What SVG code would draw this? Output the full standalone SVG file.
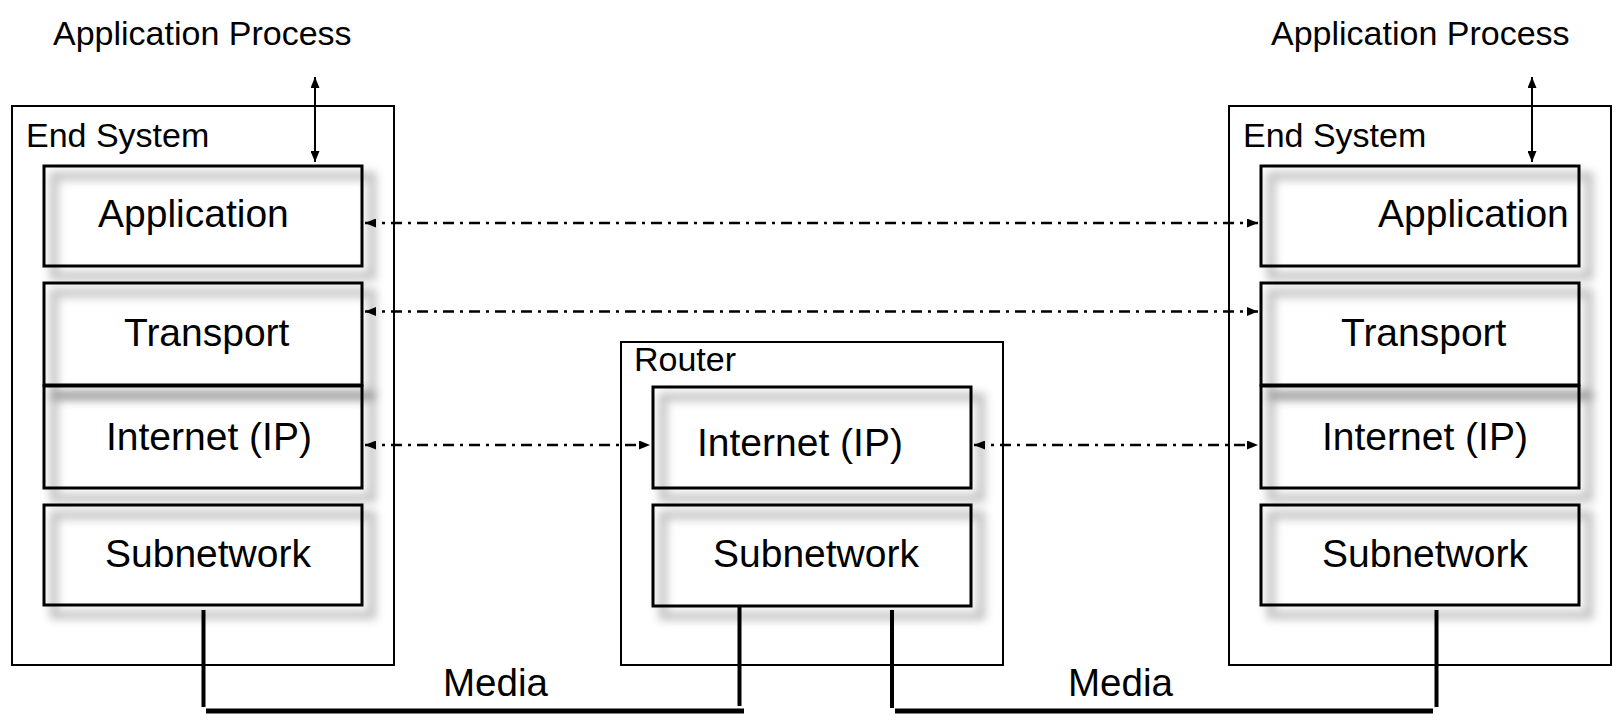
<svg xmlns="http://www.w3.org/2000/svg" width="1623" height="725" viewBox="0 0 1623 725">
<defs>
<filter id="sh" x="-10%" y="-20%" width="130%" height="150%">
<feMorphology in="SourceAlpha" operator="dilate" radius="3" result="d"/>
<feOffset in="d" dx="10" dy="10" result="o"/>
<feGaussianBlur in="o" stdDeviation="4.5" result="b"/>
<feFlood flood-color="#000" flood-opacity="0.22"/>
<feComposite in2="b" operator="in" result="s"/>
<feMerge><feMergeNode in="s"/><feMergeNode in="SourceGraphic"/></feMerge>
</filter>
<marker id="ah" viewBox="0 0 11 9" refX="11" refY="4.5" markerWidth="11" markerHeight="9" markerUnits="userSpaceOnUse" orient="auto-start-reverse">
<path d="M0,0 L11,4.5 L0,9 z" fill="#000"/>
</marker>
</defs>
<style>
text{font-family:"Liberation Sans",Arial,sans-serif;fill:#000}
.lbl{font-size:34px}
.lay{font-size:39px}
.outer{fill:none;stroke:#000;stroke-width:2}
.layer{fill:none;stroke:#000;stroke-width:3;filter:url(#sh)}
.peer{fill:none;stroke:#000;stroke-width:2.4;stroke-dasharray:11 6 3 6;marker-start:url(#ah);marker-end:url(#ah)}
.api{fill:none;stroke:#000;stroke-width:2;marker-start:url(#ah);marker-end:url(#ah)}
.media{fill:none;stroke:#000;stroke-width:4}
.bus{fill:none;stroke:#000;stroke-width:5}
</style>
<rect width="1623" height="725" fill="#fff"/>

<text class="lbl" x="53" y="45">Application Process</text>
<text class="lbl" x="1271" y="45">Application Process</text>

<g id="end-system-left">
<rect class="outer" x="12" y="106" width="382" height="559"/>
<text class="lbl" x="26" y="147">End System</text>
</g>
<g id="left-application"><rect class="layer" x="44" y="166" width="318" height="100"/><text class="lay" x="98" y="227">Application</text></g>
<g id="left-transport"><rect class="layer" x="44" y="283" width="318" height="102"/><text class="lay" x="124" y="346">Transport</text></g>
<g id="left-internet"><rect class="layer" x="44" y="386" width="318" height="102"/><text class="lay" x="106" y="450">Internet (IP)</text></g>
<g id="left-subnetwork"><rect class="layer" x="44" y="505" width="318" height="100"/><text class="lay" x="105" y="567">Subnetwork</text></g>

<g id="router">
<rect class="outer" x="621" y="342" width="382" height="323"/>
<text class="lbl" x="634" y="371">Router</text>
</g>
<g id="router-internet"><rect class="layer" x="653" y="387" width="318" height="101"/><text class="lay" x="697" y="456">Internet (IP)</text></g>
<g id="router-subnetwork"><rect class="layer" x="653" y="505" width="318" height="101"/><text class="lay" x="713" y="567">Subnetwork</text></g>

<g id="end-system-right">
<rect class="outer" x="1229" y="106" width="382" height="559"/>
<text class="lbl" x="1243" y="147">End System</text>
</g>
<g id="right-application"><rect class="layer" x="1261" y="166" width="318" height="100"/><text class="lay" x="1378" y="227">Application</text></g>
<g id="right-transport"><rect class="layer" x="1261" y="283" width="318" height="102"/><text class="lay" x="1341" y="346">Transport</text></g>
<g id="right-internet"><rect class="layer" x="1261" y="386" width="318" height="102"/><text class="lay" x="1322" y="450">Internet (IP)</text></g>
<g id="right-subnetwork"><rect class="layer" x="1261" y="505" width="318" height="100"/><text class="lay" x="1322" y="567">Subnetwork</text></g>

<g id="connectors">
<line class="api" x1="315" y1="77" x2="315" y2="162"/>
<line class="api" x1="1532" y1="77" x2="1532" y2="162"/>
<line class="peer" x1="365" y1="223" x2="1258" y2="223"/>
<line class="peer" x1="365" y1="311.5" x2="1258" y2="311.5"/>
<line class="peer" x1="365" y1="445" x2="650" y2="445"/>
<line class="peer" x1="974" y1="445" x2="1258" y2="445"/>
<line class="media" x1="203.5" y1="610" x2="203.5" y2="707"/>
<line class="bus" x1="206" y1="711" x2="744" y2="711"/>
<line class="media" x1="739.5" y1="607" x2="739.5" y2="706"/>
<line class="media" x1="892" y1="610" x2="892" y2="708"/>
<line class="bus" x1="895" y1="711" x2="1433" y2="711"/>
<line class="media" x1="1436.5" y1="610" x2="1436.5" y2="707"/>
</g>
<text class="lay" x="443" y="696" textLength="105" lengthAdjust="spacingAndGlyphs">Media</text>
<text class="lay" x="1068" y="696" textLength="105" lengthAdjust="spacingAndGlyphs">Media</text>
</svg>
